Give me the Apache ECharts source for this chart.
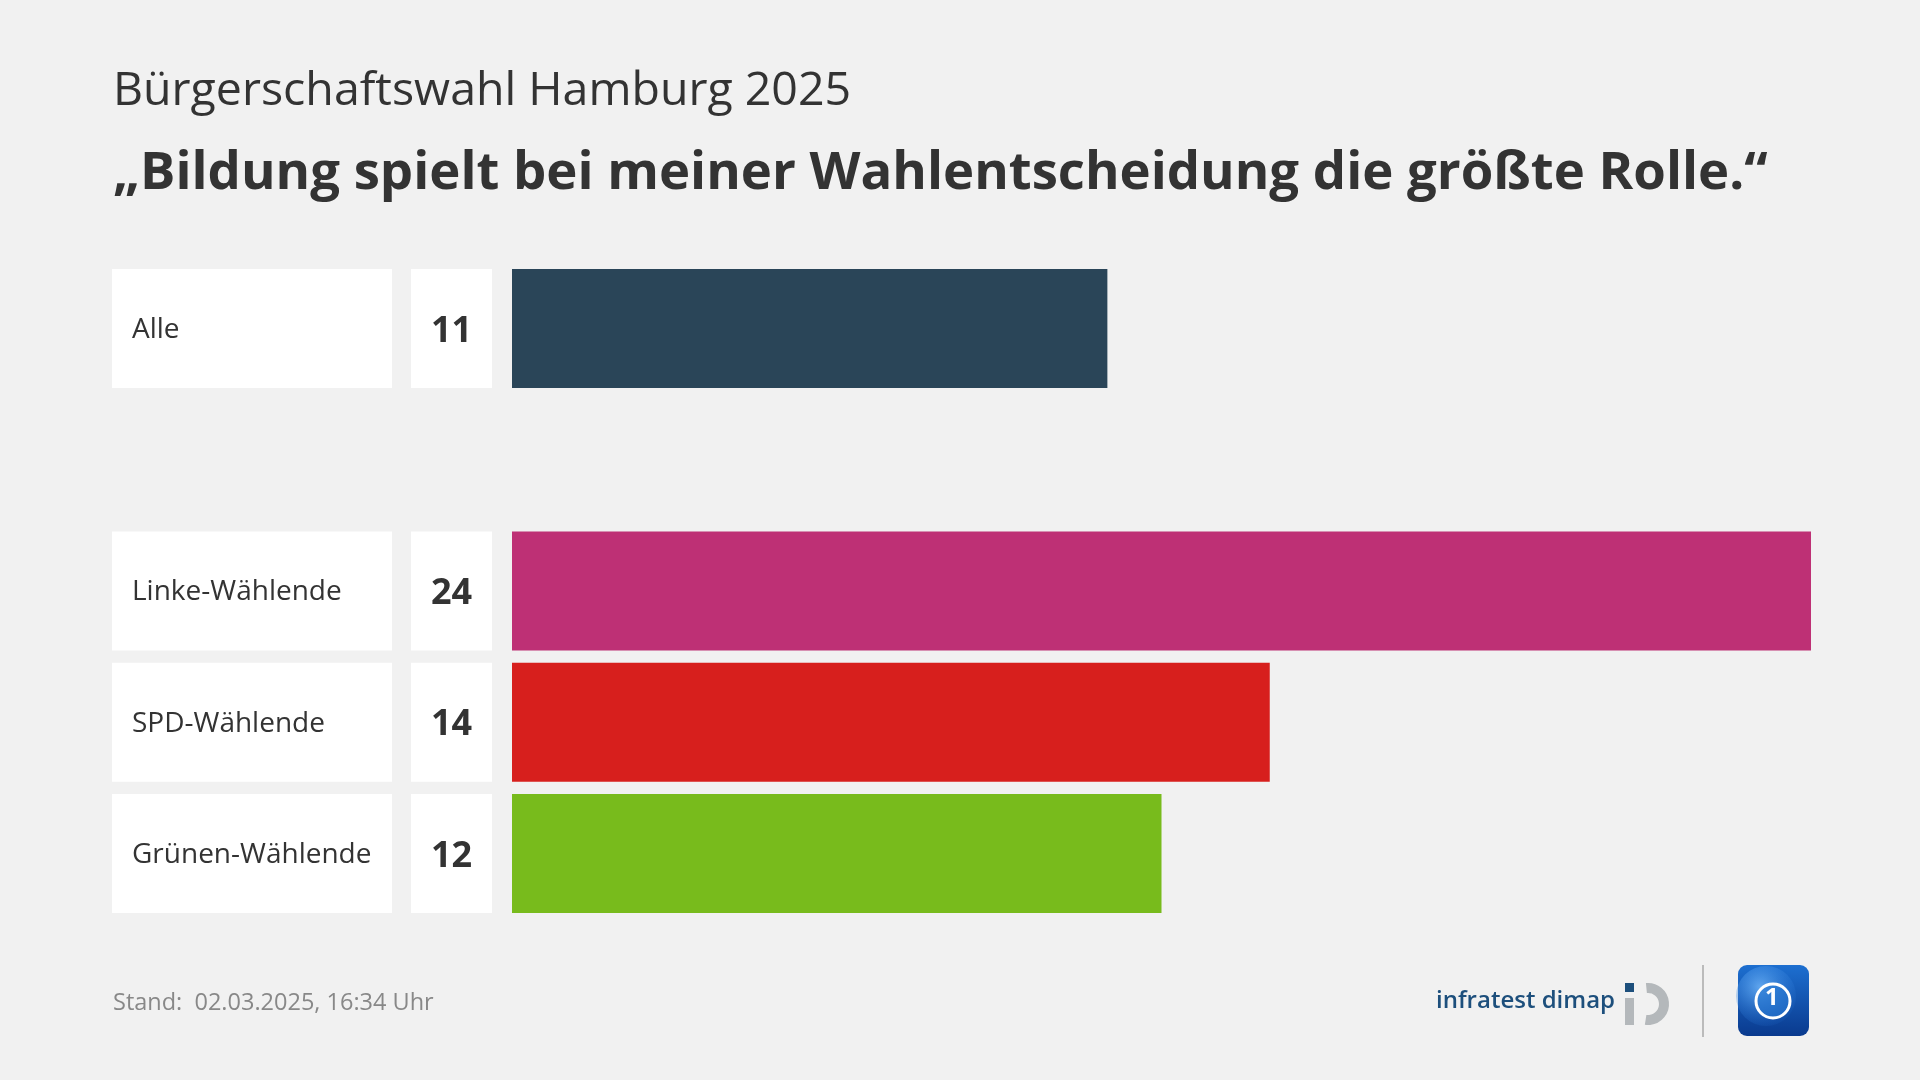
<!DOCTYPE html>
<html>
<head>
<meta charset="utf-8">
<script src="https://cdn.jsdelivr.net/npm/echarts@6/dist/echarts.min.js"></script>
<style>
html,body{margin:0;padding:0;background:#f1f1f1;}
#chart{width:1920px;height:1080px;}
</style>
</head>
<body>
<div id="chart"></div>
<script>
const categories = ['Alle', '', 'Linke-Wählende', 'SPD-Wählende', 'Grünen-Wählende'];
const values = [11, null, 24, 14, 12];
const barColors = ['#2a4558', null, '#be3075', '#d71f1d', '#78bb1c'];
const subtitleText = 'Bürgerschaftswahl Hamburg 2025';
const titleText = '„Bildung spielt bei meiner Wahlentscheidung die größte Rolle.“';
const footerText = 'Stand:  02.03.2025, 16:34 Uhr';

const FONT = '"Open Sans", "Noto Sans", sans-serif';
const chart = echarts.init(document.getElementById('chart'));

const option = {
  backgroundColor: '#f1f1f1',
  animation: false,
  textStyle: { fontFamily: FONT },
  title: [
    { text: subtitleText, left: 108, top: 63,
      textStyle: { fontFamily: FONT, fontSize: 46.5, fontWeight: 'normal', color: '#333333' } },
    { text: titleText, left: 108, top: 142,
      textStyle: { fontFamily: FONT, fontSize: 52.7, fontWeight: 'bold', color: '#333333' } }
  ],
  grid: { left: 512, right: 109, top: 263, height: 656, containLabel: false },
  xAxis: { type: 'value', min: 0, max: 24, show: false },
  yAxis: [
    {
      type: 'category', data: categories, inverse: true, position: 'left',
      axisLine: { show: false }, axisTick: { show: false }, splitLine: { show: false },
      axisLabel: {
        interval: 0, margin: 120,
        formatter: v => v ? '{box|' + v + '}' : '',
        rich: {
          box: { width: 260, height: 116, padding: [3, 0, 0, 20], backgroundColor: '#ffffff',
                 color: '#333333', fontSize: 28, fontFamily: FONT, align: 'left', verticalAlign: 'middle' }
        }
      }
    },
    {
      type: 'category', data: categories, inverse: true, position: 'left', offset: 0,
      axisLine: { show: false }, axisTick: { show: false }, splitLine: { show: false },
      axisLabel: {
        interval: 0, margin: 20,
        formatter: (v, i) => values[i] != null ? '{v|' + values[i] + '}' : '',
        rich: {
          v: { width: 81, height: 113, padding: [6, 0, 0, 0], backgroundColor: '#ffffff', color: '#333333',
               fontSize: 36, fontWeight: 'bold', fontFamily: FONT, align: 'center', verticalAlign: 'middle' }
        }
      }
    }
  ],
  series: [{
    type: 'bar', yAxisIndex: 0, barWidth: 119,
    data: values.map((v, i) => v == null ? '-' : { value: v, itemStyle: { color: barColors[i] } }),
    label: { show: false }
  }],
  graphic: [
    { type: 'text', left: 113, top: 991,
      style: { text: footerText, font: '23.5px ' + FONT, fill: '#888888' } },
    { type: 'text', left: 1436, top: 989,
      style: { text: 'infratest dimap', font: '600 24px ' + FONT, fill: '#1d4f7c' } },
    { type: 'rect', shape: { x: 1625, y: 983, width: 9, height: 9 }, style: { fill: '#1d4f7c' } },
    { type: 'rect', shape: { x: 1625, y: 998, width: 9, height: 27 }, style: { fill: '#b4b8bb' } },
    { type: 'arc', shape: { cx: 1648, cy: 1004, r: 16, startAngle: -Math.PI / 2 - 0.1, endAngle: Math.PI / 2 + 0.15, clockwise: true },
      style: { stroke: '#b4b8bb', lineWidth: 10, fill: null } },
    { type: 'rect', shape: { x: 1702, y: 965, width: 2, height: 72 }, style: { fill: '#bbbbbb' } },
    { type: 'rect', shape: { x: 1738, y: 965, width: 71, height: 71, r: 9 },
      style: { fill: new echarts.graphic.LinearGradient(0, 0, 0, 1, [
        { offset: 0, color: '#1d6fd0' }, { offset: 1, color: '#0a3a8e' }]) } },
    { type: 'circle', shape: { cx: 1766, cy: 996, r: 30 },
      style: { fill: new echarts.graphic.RadialGradient(0.4, 0.35, 0.7, [
        { offset: 0, color: 'rgba(120,190,255,0.75)' }, { offset: 1, color: 'rgba(30,110,210,0.1)' }]) } },
    { type: 'circle', shape: { cx: 1773, cy: 1001, r: 17 },
      style: { fill: 'rgba(40,120,210,0.6)', stroke: '#ffffff', lineWidth: 3 } },
    { type: 'text', left: 1765, top: 986,
      style: { text: '1', font: 'bold 24px ' + FONT, fill: '#ffffff' } }
  ]
};
chart.setOption(option);
</script>
</body>
</html>
